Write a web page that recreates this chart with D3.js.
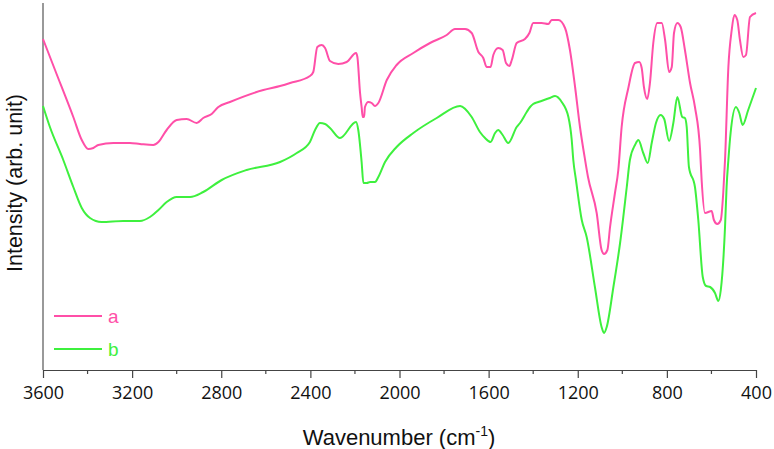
<!DOCTYPE html>
<html>
<head>
<meta charset="utf-8">
<script src="https://cdn.jsdelivr.net/npm/d3@7"></script>
<style>
  body { margin: 0; background: #fff; }
  svg { display: block; }
</style>
</head>
<body>
<div id="chart"></div>
<script>
// FTIR spectra, intensity in arbitrary units
const seriesNames = ['a', 'b']
const seriesColors = ['#ff4fa8', '#3ef03e']

const aWave = [3600, 3546, 3464, 3426, 3397, 3374, 3352, 3284, 3210, 3165, 3105, 3082, 3045, 3000, 2955, 2910, 2881, 2843, 2813, 2761, 2611, 2536, 2491, 2402, 2387, 2369, 2349, 2334, 2312, 2275, 2237, 2195, 2189, 2177, 2170, 2165, 2159, 2155, 2140, 2125, 2110, 2095, 2057, 2013, 1938, 1863, 1788, 1751, 1706, 1676, 1646, 1624, 1609, 1591, 1579, 1557, 1537, 1522, 1507, 1496, 1474, 1437, 1417, 1400, 1362, 1332, 1317, 1287, 1257, 1235, 1212, 1190, 1167, 1154, 1115, 1093, 1082, 1067, 1055, 1033, 1018, 1003, 973, 943, 924, 913, 903, 888, 876, 861, 843, 823, 808, 790, 778, 768, 753, 738, 719, 696, 674, 651, 644, 629, 599, 589, 574, 558, 547, 539, 524, 509, 497, 484, 472, 457, 445, 427, 400]
const aInt = [331, 300, 253, 230, 221, 222, 225, 227, 227, 226, 225, 228, 240, 250, 251, 247, 252, 256, 263, 268, 280, 284, 287, 294, 298, 323, 325, 322, 309, 306, 308, 317, 313, 277, 263, 253, 253, 263, 268, 267, 264, 267, 290, 305, 317, 327, 335, 341, 341, 337, 318, 312, 303, 303, 315, 322, 320, 307, 304, 310, 327, 331, 337, 347, 347, 346, 350, 350, 342, 320, 283, 243, 210, 193, 157, 120, 116, 120, 143, 177, 200, 243, 282, 307, 308, 302, 283, 271, 287, 327, 347, 347, 330, 298, 303, 337, 347, 343, 320, 287, 263, 220, 190, 157, 159, 150, 146, 150, 177, 210, 303, 340, 355, 350, 330, 313, 315, 353, 357]

const bWave = [3600, 3569, 3509, 3464, 3426, 3389, 3337, 3240, 3165, 3120, 3082, 3045, 3000, 2940, 2881, 2798, 2686, 2536, 2461, 2402, 2379, 2357, 2334, 2312, 2267, 2195, 2185, 2170, 2162, 2147, 2132, 2110, 2095, 2065, 2013, 1938, 1833, 1728, 1676, 1639, 1616, 1591, 1571, 1557, 1537, 1512, 1474, 1459, 1429, 1414, 1400, 1377, 1325, 1302, 1272, 1242, 1227, 1220, 1208, 1182, 1160, 1123, 1093, 1082, 1070, 1040, 1010, 980, 966, 943, 928, 906, 886, 868, 849, 828, 812, 790, 771, 753, 731, 719, 711, 701, 674, 659, 639, 624, 606, 584, 569, 558, 539, 532, 524, 514, 490, 475, 460, 435, 400]
const bInt = [264, 243, 210, 183, 162, 152, 148, 149, 149, 153, 160, 168, 173, 173, 178, 190, 200, 208, 217, 228, 240, 247, 246, 242, 232, 248, 240, 208, 187, 187, 188, 188, 193, 208, 223, 237, 252, 264, 253, 238, 232, 228, 237, 240, 235, 227, 243, 247, 258, 263, 266, 268, 272, 274, 268, 253, 230, 210, 190, 150, 133, 83, 43, 37, 43, 83, 127, 183, 210, 225, 230, 217, 207, 227, 247, 255, 251, 229, 247, 273, 253, 252, 243, 203, 183, 150, 93, 84, 83, 77, 69, 80, 143, 183, 210, 237, 263, 257, 245, 260, 282]

const xMajorTicks = [3600, 3200, 2800, 2400, 2000, 1600, 1200, 800, 400]
const xMinorTicks = [3400, 3000, 2600, 2200, 1800, 1400, 1000, 600]

const width = 774
const height = 449
const margin = {left: 43, right: 18, top: 3, bottom: 79}

const svg = d3.select('#chart').append('svg')
  .attr('width', width)
  .attr('height', height)

const x = d3.scaleLinear()
  .domain([3600, 400])
  .range([margin.left, width - margin.right])

const y = d3.scaleLinear()
  .domain([0, 367])
  .range([height - margin.bottom, margin.top])

// axes
const xAxis = d3.axisBottom(x)
  .tickValues(xMajorTicks)
  .tickSize(8)
  .tickSizeOuter(0)
  .tickPadding(8)
  .tickFormat(d3.format('d'))

const gx = svg.append('g')
  .attr('transform', 'translate(0,' + y(0) + ')')
  .call(xAxis)
gx.select('.domain').attr('stroke', '#444').attr('stroke-width', 1.2)
gx.selectAll('.tick line').attr('stroke', '#444').attr('stroke-width', 1.2)
gx.selectAll('.tick text')
  .attr('fill', '#111')
  .style('font-family', '"Open Sans", sans-serif')
  .style('font-size', '18px')

gx.selectAll('line.minor')
  .data(xMinorTicks)
  .enter().append('line')
  .attr('class', 'minor')
  .attr('x1', d => x(d)).attr('x2', d => x(d))
  .attr('y1', 0).attr('y2', 4)
  .attr('stroke', '#444').attr('stroke-width', 1.2)

svg.append('line')
  .attr('x1', x(3600)).attr('x2', x(3600))
  .attr('y1', y(367)).attr('y2', y(0))
  .attr('stroke', '#777').attr('stroke-width', 1.5)

// axis titles
const xTitle = svg.append('text')
  .attr('x', 399)
  .attr('y', 445)
  .attr('text-anchor', 'middle')
  .attr('fill', '#111')
  .style('font-family', '"Liberation Sans", Arial, sans-serif')
  .style('font-size', '22px')
xTitle.append('tspan').text('Wavenumber (cm')
xTitle.append('tspan').attr('dy', -9).style('font-size', '14px').text('-1')
xTitle.append('tspan').attr('dy', 9).text(')')

svg.append('text')
  .attr('transform', 'translate(22,183) rotate(-90)')
  .attr('text-anchor', 'middle')
  .attr('fill', '#111')
  .style('font-family', '"Liberation Sans", Arial, sans-serif')
  .style('font-size', '21.5px')
  .text('Intensity (arb. unit)')

// spectra
const line = d3.line()
  .x(d => x(d[0]))
  .y(d => y(d[1]))
  .curve(d3.curveMonotoneX)

const series = [d3.zip(aWave, aInt), d3.zip(bWave, bInt)]

svg.append('g')
  .selectAll('path')
  .data(series)
  .enter().append('path')
  .attr('d', line)
  .attr('fill', 'none')
  .attr('stroke', (d, i) => seriesColors[i])
  .attr('stroke-width', 2)
  .attr('stroke-linejoin', 'round')

// legend
const legend = svg.append('g')
  .selectAll('g')
  .data(seriesNames)
  .enter().append('g')
  .attr('transform', (d, i) => 'translate(54,' + (316 + i * 33) + ')')

legend.append('line')
  .attr('x1', 0).attr('x2', 48)
  .attr('stroke', (d, i) => seriesColors[i])
  .attr('stroke-width', 2)

legend.append('text')
  .attr('x', 54)
  .attr('y', 7)
  .attr('fill', (d, i) => seriesColors[i])
  .style('font-family', '"Liberation Sans", Arial, sans-serif')
  .style('font-size', '19px')
  .text(d => d)
</script>
</body>
</html>
